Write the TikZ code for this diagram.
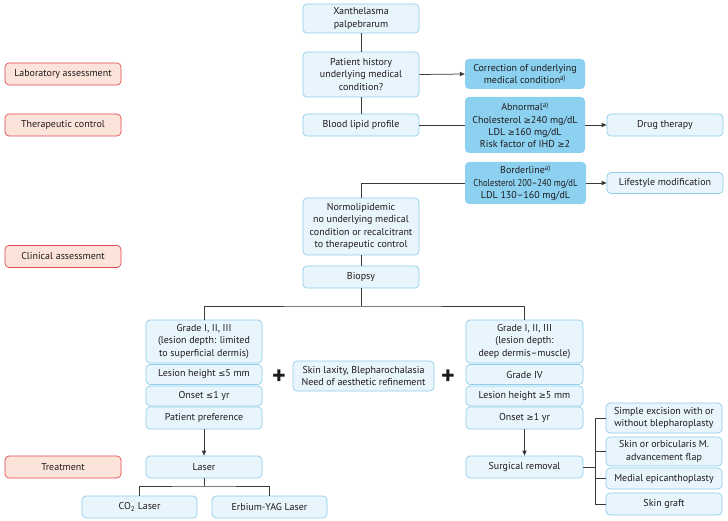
\documentclass[tikz,border=0pt]{standalone}
\usepackage{fontspec}
\setmainfont{PT Sans}
\newfontfamily\narrowfont{PT Sans}[FakeStretch=0.86]
\newfontfamily\symf{DejaVu Sans}
\newcommand{\gesym}{{\symf\fontsize{8.5}{10}\selectfont ≥}}
\newcommand{\lesym}{{\symf\fontsize{8.5}{10}\selectfont ≤}}
\usetikzlibrary{arrows.meta}
\definecolor{lbfill}{HTML}{E9F5FC}
\definecolor{lbdraw}{HTML}{8FCDEB}
\definecolor{dbfill}{HTML}{8DD1F1}
\definecolor{pkfill}{HTML}{FDE4DA}
\definecolor{pkdraw}{HTML}{DE4A4F}
\definecolor{txt}{HTML}{1E1B1C}
\definecolor{ln}{HTML}{3A3A3A}
\tikzset{
  base/.style={rounded corners=4pt, align=center, inner sep=1pt, text=txt,
    font=\fontsize{10}{12.4}\selectfont},
  lb/.style={base, draw=lbdraw, fill=lbfill, line width=0.7pt},
  db/.style={base, fill=dbfill},
  pk/.style={base, draw=pkdraw, fill=pkfill, line width=0.7pt, minimum width=116pt, minimum height=22pt},
  sz/.style 2 args={minimum width=#1pt, minimum height=#2pt},
  conn/.style={draw=ln, line width=0.75pt},
  arr/.style={conn, -{Triangle[length=5pt,width=4.2pt]}},
  plus/.style={text=txt, font=\fontsize{26}{26}\selectfont\bfseries, inner sep=0pt}
}
\begin{document}
\begin{tikzpicture}[x=1pt,y=-1pt]
\useasboundingbox[fill=white] (0,0) rectangle (728,521);
% stage labels
\node[pk] (lab) at (63,74) {Laboratory assessment};
\node[pk] (ther) at (63,125) {Therapeutic control};
\node[pk] (clin) at (63,256.5) {Clinical assessment};
\node[pk] (treat) at (63,467) {Treatment};
% main column
\node[lb, sz={116}{29}] (xan) at (361,18.5) {Xanthelasma\\palpebrarum};
\node[lb, sz={116}{45}] (hist) at (361,74.5) {Patient history\\underlying medical\\condition?};
\node[lb, sz={116}{22}] (blood) at (361,125) {Blood lipid profile};
\node[db, sz={120}{30}] (corr) at (525,74) {Correction of underlying\\medical condition\textsuperscript{a)}};
\node[db, sz={120}{56}] (abn) at (525,125) {Abnormal\textsuperscript{a)}\\Cholesterol \gesym240 mg/dL\\LDL \gesym160 mg/dL\\Risk factor of IHD \gesym2};
\node[lb, sz={116}{22}] (drug) at (665,125) {Drug therapy};
\node[db, sz={121}{42}] (bord) at (525.5,183) {Borderline\textsuperscript{a)}\\{\narrowfont Cholesterol 200–240 mg/dL}\\LDL 130–160 mg/dL};
\node[lb, sz={116}{21}] (life) at (665,183) {Lifestyle modification};
\node[lb, sz={116}{57}] (normo) at (361,226.5) {Normolipidemic\\no underlying medical\\condition or recalcitrant\\to therapeutic control};
\node[lb, sz={116}{22}] (biopsy) at (361,277) {Biopsy};
% left branch
\node[lb, sz={116}{43}] (g1) at (204,341.5) {Grade I, II, III\\(lesion depth: limited\\to superficial dermis)};
\node[lb, sz={116}{20}] (lh1) at (204,374.5) {Lesion height \lesym5 mm};
\node[lb, sz={116}{20}] (on1) at (204,396) {Onset \lesym1 yr};
\node[lb, sz={116}{22}] (pp) at (204,418) {Patient preference};
\node[lb, sz={116}{22}] (laser) at (204,467) {Laser};
\node[lb, sz={115}{22}] (co2) at (139.5,507) {CO\textsubscript{2} Laser};
\node[lb, sz={115}{22}] (erb) at (269.5,507) {Erbium-YAG Laser};
% middle
\node[lb, sz={141}{30}] (skin) at (363.5,376) {Skin laxity, Blepharochalasia\\Need of aesthetic refinement};
\node[plus] (plusA) at (279,377) {+};
\node[plus] (plusB) at (448,377) {+};
% right branch
\node[lb, sz={117}{43}] (g2) at (524.5,341.5) {Grade I, II, III\\(lesion depth:\\deep dermis–muscle)};
\node[lb, sz={117}{20}] (g4) at (524.5,374.5) {Grade IV};
\node[lb, sz={117}{20}] (lh2) at (524.5,396) {Lesion height \gesym5 mm};
\node[lb, sz={117}{22}] (on2) at (524.5,418) {Onset \gesym1 yr};
\node[lb, sz={117}{22}] (surg) at (524.5,467) {Surgical removal};
\node[lb, sz={116}{30}] (se) at (664,418) {Simple excision with or\\without blepharoplasty};
\node[lb, sz={116}{29}] (so) at (664,451.5) {Skin or orbicularis M.\\advancement flap};
\node[lb, sz={116}{21}] (me) at (664,478.5) {Medial epicanthoplasty};
\node[lb, sz={116}{22}] (sg) at (664,504) {Skin graft};
% junctions
\coordinate (bj) at (361,306);
\coordinate (lj) at (204,486);
\coordinate (sjt) at (595,418);
\coordinate (sjb) at (595,504);
% connectors
\draw[conn] (xan) -- (hist);
\draw[conn] (hist) -- (blood);
\draw[arr] (hist.east) -- (corr.west);
\draw[conn] (blood.east) -- (abn.west);
\draw[arr] (abn.east) -- (drug.west);
\draw[arr] (bord.east) -- (life.west);
\draw[conn] (bord.west) -| (normo.north);
\draw[conn] (normo) -- (biopsy);
\draw[conn] (biopsy) -- (bj);
\draw[conn] (g1.north) |- (bj) -| (g2.north);
\draw[arr] (pp) -- (laser);
\draw[conn] (laser) -- (lj);
\draw[conn] (co2.north) |- (lj) -| (erb.north);
\draw[arr] (on2) -- (surg);
\draw[conn] (surg.east) -- (surg.east -| sjt);
\draw[conn] (se.west) -- (sjt) -- (sjb) -- (sg.west);
\draw[conn] (so.west) -- (so.west -| sjt);
\draw[conn] (me.west) -- (me.west -| sjt);
\end{tikzpicture}
\end{document}
